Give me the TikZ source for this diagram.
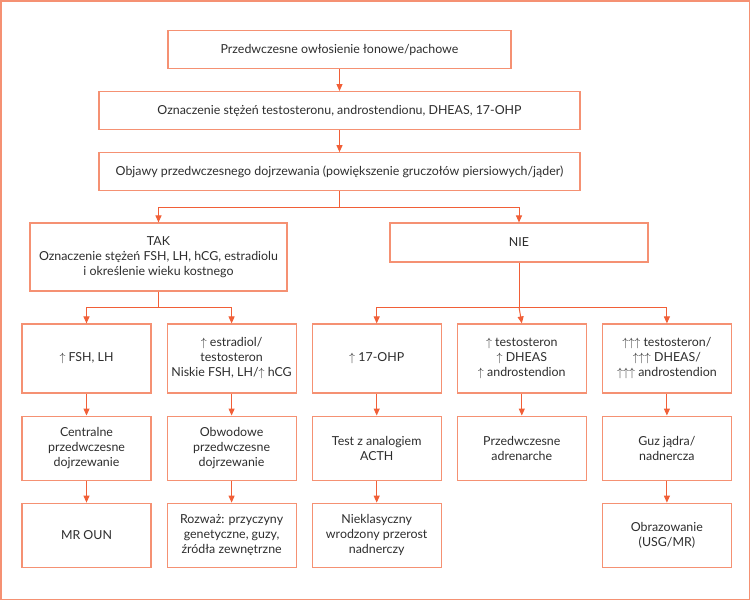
\documentclass[tikz,border=0pt]{standalone}
\usepackage{fontspec}
\setmainfont{Lato}
\usepackage{tikz}
\usetikzlibrary{arrows.meta, positioning}
\usepackage{xcolor}
\definecolor{boxline}{RGB}{245,145,115}
\definecolor{arrowline}{RGB}{241,95,55}
\definecolor{txt}{RGB}{45,45,45}
\newcommand{\upar}{$\uparrow$}

\begin{document}
\begin{tikzpicture}[x=1pt, y=1pt,
node distance=22pt,
box/.style={draw=boxline,
line width=1.1pt,
rectangle,
inner sep=0pt,
minimum width=129pt,
minimum height=64pt,
align=center,
text=txt,
font=\fontsize{12.4}{15}\selectfont},
arrow/.style={-{Triangle[length=7pt, width=6pt]}, draw=arrowline, line width=1pt} ]

\draw[boxline, line width=1.5pt] (0.75,-0.75) rectangle (749.25,-599.25);
\useasboundingbox (0,0) rectangle (750,-600);

\node[box, minimum width=343pt, minimum height=38pt] (top) at (339.5,-49.5) {Przedwczesne owłosienie łonowe/pachowe};
\node[box, minimum width=481pt, minimum height=38pt, below=of top] (tests) {Oznaczenie stężeń testosteronu, androstendionu, DHEAS, 17-OHP};
\node[box, minimum width=481pt, minimum height=38pt, below=of tests] (signs) {Objawy przedwczesnego dojrzewania (powiększenie gruczołów piersiowych/jąder)};
\node[box, minimum width=257pt, minimum height=68pt] (yes) at (158.5,-257) {TAK\\Oznaczenie stężeń FSH, LH, hCG, estradiolu\\i określenie wieku kostnego};
\node[box, minimum width=258pt, minimum height=39pt] (no) at (519,-242.5) {NIE};

\node[box, minimum height=69pt] (lab1) at (86.5,-358.5) {\upar{} FSH, LH};
\node[box, minimum height=69pt, right=15pt of lab1] (lab2) {\upar{} estradiol/\\testosteron\\Niskie FSH, LH/\upar{} hCG};
\node[box, minimum height=69pt, right=15pt of lab2] (lab3) {\upar{} 17-OHP};
\node[box, minimum height=69pt, right=15pt of lab3] (lab4) {\upar{} testosteron\\\upar{} DHEAS\\\upar{} androstendion};
\node[box, minimum height=69pt, right=15pt of lab4] (lab5) {\upar\upar\upar{} testosteron/\\\upar\upar\upar{} DHEAS/\\\upar\upar\upar{} androstendion};

\node[box, below=of lab1] (dx1) {Centralne\\przedwczesne\\dojrzewanie};
\node[box, below=of lab2] (dx2) {Obwodowe\\przedwczesne\\dojrzewanie};
\node[box, below=of lab3] (dx3) {Test z analogiem\\ACTH};
\node[box, below=of lab4] (dx4) {Przedwczesne\\adrenarche};
\node[box, below=of lab5] (dx5) {Guz jądra/\\nadnercza};

\node[box, below=of dx1] (end1) {MR OUN};
\node[box, below=of dx2] (end2) {Rozważ: przyczyny\\genetyczne, guzy,\\źródła zewnętrzne};
\node[box, below=of dx3] (end3) {Nieklasyczny\\wrodzony przerost\\nadnerczy};
\node[box, below=of dx5] (end5) {Obrazowanie\\(USG/MR)};

\coordinate (fork1) at (0,-207);
\coordinate (fork2) at (0,-307);

\draw[arrow] (top) -- (tests);
\draw[arrow] (tests) -- (signs);
\draw[arrow] (signs.south) -- (signs.south |- fork1) -| (yes.north);
\draw[arrow] (signs.south |- fork1) -| (no.north);

\draw[arrow] (yes.south) -- (yes.south |- fork2) -| (lab1.north);
\draw[arrow] (yes.south |- fork2) -| (lab2.north);
\draw[arrow] (no.south) -- (no.south |- fork2) -| (lab3.north);
\draw[arrow] (no.south |- fork2) -| (lab5.north);
\draw[arrow] (no.south |- fork2) -- (lab4.north);

\draw[arrow] (lab1) -- (dx1);
\draw[arrow] (lab2) -- (dx2);
\draw[arrow] (lab3) -- (dx3);
\draw[arrow] (lab4) -- (dx4);
\draw[arrow] (lab5) -- (dx5);

\draw[arrow] (dx1) -- (end1);
\draw[arrow] (dx2) -- (end2);
\draw[arrow] (dx3) -- (end3);
\draw[arrow] (dx5) -- (end5);

\end{tikzpicture}
\end{document}
